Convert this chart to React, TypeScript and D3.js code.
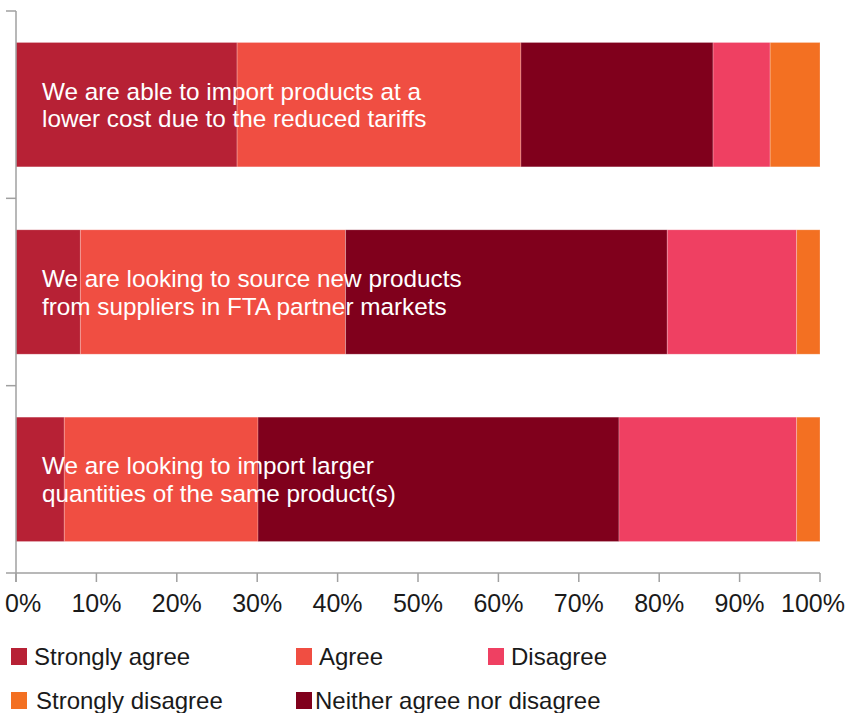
import { useEffect, useRef } from 'react';
import * as d3 from 'd3';

const statements = [
  ['We are able to import products at a', 'lower cost due to the reduced tariffs'],
  ['We are looking to source new products', 'from suppliers in FTA partner markets'],
  ['We are looking to import larger', 'quantities of the same product(s)'],
];

const seriesKeys = ['Strongly agree', 'Agree', 'Neither agree nor disagree', 'Disagree', 'Strongly disagree'];
const stronglyAgree = [27.5, 8, 6];
const agree = [35.3, 33, 24.1];
const neither = [23.9, 40, 44.9];
const disagree = [7.1, 16.1, 22.1];
const stronglyDisagree = [6.2, 2.9, 2.9];

const xTicks = [0, 10, 20, 30, 40, 50, 60, 70, 80, 90, 100];

const colors: Record<string, string> = {
  'Strongly agree': '#b72135',
  'Agree': '#f04e42',
  'Neither agree nor disagree': '#80001c',
  'Disagree': '#ef4062',
  'Strongly disagree': '#f37022',
};

// legend order as in the original
const legendRows = [
  ['Strongly agree', 'Agree', 'Disagree'],
  ['Strongly disagree', 'Neither agree nor disagree'],
];

const WIDTH = 846;
const HEIGHT = 713;
const FONT = '"Liberation Sans", Arial, Helvetica, sans-serif';

export default function App() {
  const svgRef = useRef<SVGSVGElement>(null);

  useEffect(() => {
    if (!svgRef.current) return;
    const svg = d3.select(svgRef.current);
    svg.selectAll('*').remove();

    const x = d3.scaleLinear().domain([0, 100]).range([16, 820]);
    const y = d3.scaleBand<number>()
      .domain([0, 1, 2])
      .range([11, 573])
      .paddingInner(0.336)
      .paddingOuter(0.168);

    const rows = statements.map((_, i) => ({
      idx: i,
      'Strongly agree': stronglyAgree[i],
      'Agree': agree[i],
      'Neither agree nor disagree': neither[i],
      'Disagree': disagree[i],
      'Strongly disagree': stronglyDisagree[i],
    }));

    const stacked = d3.stack<any>().keys(seriesKeys)(rows);

    const g = svg.append('g');
    stacked.forEach(layer => {
      g.append('g')
        .attr('fill', colors[layer.key])
        .selectAll('rect')
        .data(layer)
        .enter()
        .append('rect')
        .attr('x', d => x(d[0]))
        .attr('width', d => x(d[1]) - x(d[0]))
        .attr('y', d => y(d.data.idx) as number)
        .attr('height', y.bandwidth())
        .attr('stroke', 'rgba(255,255,255,0.3)')
        .attr('stroke-width', 0.8);
    });

    // statement labels inside bars
    statements.forEach((lines, i) => {
      const cy = (y(i) as number) + y.bandwidth() / 2;
      const t = svg.append('text')
        .attr('x', 42)
        .attr('font-family', FONT)
        .attr('font-size', 24.3)
        .attr('fill', '#ffffff');
      lines.forEach((line, j) => {
        t.append('tspan')
          .attr('x', 42)
          .attr('y', cy - 5 + j * 27.5)
          .text(line);
      });
    });

    // y axis: band boundaries as ticks
    const axisColor = '#a0a0a0';
    const yAxis = svg.append('g');
    yAxis.append('line')
      .attr('x1', 16).attr('x2', 16)
      .attr('y1', 11).attr('y2', 582)
      .attr('stroke', axisColor).attr('stroke-width', 1.5);
    const bounds = [11, 11 + (573 - 11) / 3, 11 + (2 * (573 - 11)) / 3, 573];
    yAxis.selectAll('line.tick')
      .data(bounds)
      .enter()
      .append('line')
      .attr('class', 'tick')
      .attr('x1', 6).attr('x2', 16)
      .attr('y1', d => d).attr('y2', d => d)
      .attr('stroke', axisColor).attr('stroke-width', 1.5);

    // x axis
    const xAxis = svg.append('g');
    xAxis.append('line')
      .attr('x1', 16).attr('x2', 820)
      .attr('y1', 573).attr('y2', 573)
      .attr('stroke', axisColor).attr('stroke-width', 1.5);
    xAxis.selectAll('line.tick')
      .data(xTicks)
      .enter()
      .append('line')
      .attr('class', 'tick')
      .attr('x1', d => x(d)).attr('x2', d => x(d))
      .attr('y1', 573).attr('y2', 582)
      .attr('stroke', axisColor).attr('stroke-width', 1.5);
    // end labels are pushed inward so they stay inside the frame
    xAxis.selectAll('text')
      .data(xTicks)
      .enter()
      .append('text')
      .attr('x', d => (d === 0 ? 5 : d === 100 ? 845 : x(d)))
      .attr('y', 612)
      .attr('text-anchor', d => (d === 0 ? 'start' : d === 100 ? 'end' : 'middle'))
      .attr('font-family', FONT)
      .attr('font-size', 25)
      .attr('fill', '#1a1a1a')
      .text(d => `${d}%`);

    // legend
    const colX = [11, 296, 488];
    const rowY = [648, 692];
    const legend = svg.append('g');
    legendRows.forEach((row, r) => {
      row.forEach((key, c) => {
        const lg = legend.append('g')
          .attr('transform', `translate(${colX[c]},${rowY[r]})`);
        lg.append('rect')
          .attr('width', 16).attr('height', 17)
          .attr('fill', colors[key]);
        lg.append('text')
          .attr('x', key === 'Neither agree nor disagree' ? 19 : key === 'Strongly disagree' ? 25 : 23)
          .attr('y', 17)
          .attr('font-family', FONT)
          .attr('font-size', 24)
          .attr('fill', '#1a1a1a')
          .text(key);
      });
    });
  }, []);

  return (
    <svg
      ref={svgRef}
      width={WIDTH}
      height={HEIGHT}
      style={{ position: 'absolute', left: 0, top: 0, background: '#ffffff' }}
    />
  );
}
